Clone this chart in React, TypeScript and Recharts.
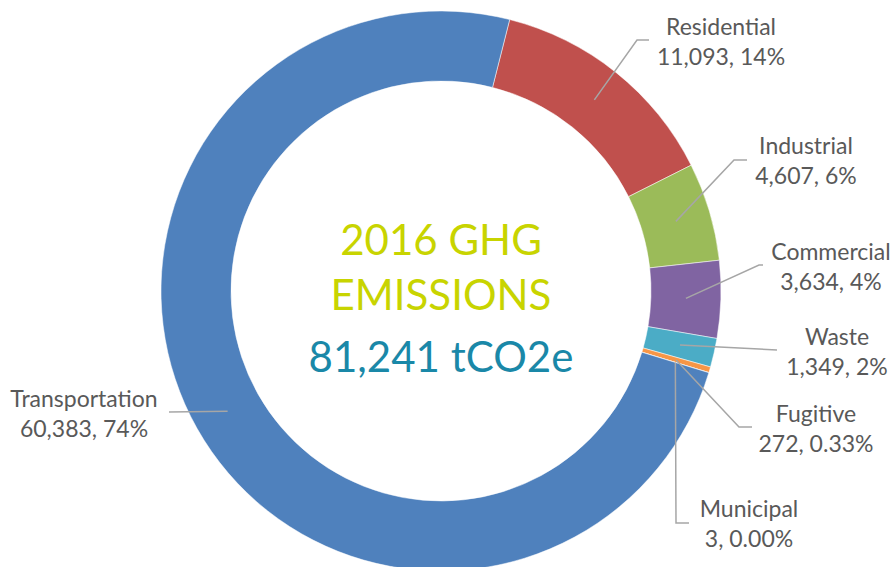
import React from "react";
import { PieChart, Pie, Cell } from "recharts";

const sectors = [
  "Residential",
  "Industrial",
  "Commercial",
  "Waste",
  "Fugitive",
  "Municipal",
  "Transportation",
];
const emissions = [11093, 4607, 3634, 1349, 272, 3, 60383];
const shareLabels = ["14%", "6%", "4%", "2%", "0.33%", "0.00%", "74%"];
const sectorColors = [
  "#C0504D",
  "#9BBB59",
  "#8064A2",
  "#4BACC6",
  "#F79646",
  "#2C4D75",
  "#4F81BD",
];

const titleLines = ["2016 GHG", "EMISSIONS"];
const totalLabel = "81,241 tCO2e";

const CX = 441;
const CY = 291;

// leader line bends and label anchors, as offsets from the pie centre
const labelLayout: Record<string, { bends: number[][]; text: number[] }> = {
  Residential: { bends: [[196, -251], [208, -251]], text: [280, -256] },
  Industrial: { bends: [[293, -131], [306, -131]], text: [365, -137] },
  Commercial: { bends: [[318, -26], [322, -26]], text: [390, -31] },
  Waste: { bends: [[336, 59]], text: [396, 54] },
  Fugitive: { bends: [[298, 136], [311, 136]], text: [375, 131] },
  Municipal: { bends: [[235, 232], [248, 232]], text: [308, 226] },
  Transportation: { bends: [[-272, 121]], text: [-357, 116] },
};

const chartData = sectors.map((name, i) => ({
  name,
  value: emissions[i],
  share: shareLabels[i],
}));

const RAD = Math.PI / 180;
const labelFont = "Lato, 'Open Sans', sans-serif";

const renderLabel = (props: any) => {
  const { cx, cy, midAngle, innerRadius, outerRadius, index } = props;
  const item = chartData[index];
  const layout = labelLayout[item.name];
  const r = (innerRadius + outerRadius) / 2;
  const sx = cx + r * Math.cos(-midAngle * RAD);
  const sy = cy + r * Math.sin(-midAngle * RAD);
  const pts = [[sx, sy], ...layout.bends.map(([dx, dy]) => [cx + dx, cy + dy])];
  const tx = cx + layout.text[0];
  const ty = cy + layout.text[1];
  return (
    <g key={`lbl-${index}`}>
      <polyline
        points={pts.map((p) => p.join(",")).join(" ")}
        fill="none"
        stroke="#A6A6A6"
        strokeWidth={1.5}
      />
      <text
        x={tx}
        y={ty}
        textAnchor="middle"
        fill="#595959"
        fontSize={23}
        fontFamily={labelFont}
      >
        {item.name}
      </text>
      <text
        x={tx}
        y={ty + 30}
        textAnchor="middle"
        fill="#595959"
        fontSize={23}
        fontFamily={labelFont}
      >
        {`${item.value.toLocaleString("en-US")}, ${item.share}`}
      </text>
    </g>
  );
};

export default function App() {
  return (
    <div style={{ position: "absolute", left: 0, top: 0, width: 890, height: 567, background: "#fff" }}>
      <PieChart width={890} height={567} margin={{ top: 0, right: 0, bottom: 0, left: 0 }}>
        <Pie
          data={chartData}
          dataKey="value"
          nameKey="name"
          cx={CX}
          cy={CY}
          innerRadius={210}
          outerRadius={280}
          startAngle={75.8}
          endAngle={-284.2}
          stroke="#fff"
          strokeWidth={0.5}
          label={renderLabel}
          labelLine={false}
          isAnimationActive={false}
        >
          {chartData.map((d, i) => (
            <Cell key={d.name} fill={sectorColors[i]} />
          ))}
        </Pie>
      </PieChart>
      <svg
        width={890}
        height={567}
        style={{ position: "absolute", left: 0, top: 0, pointerEvents: "none" }}
      >
        <g fontFamily={labelFont} fontSize={42} textAnchor="middle">
          <text x={CX} y={CY - 36} fill="#C8D400">
            {titleLines[0]}
          </text>
          <text x={CX} y={CY + 19} fill="#C8D400">
            {titleLines[1]}
          </text>
          <text x={CX} y={CY + 81} fill="#1A88A8">
            {totalLabel}
          </text>
        </g>
      </svg>
    </div>
  );
}
